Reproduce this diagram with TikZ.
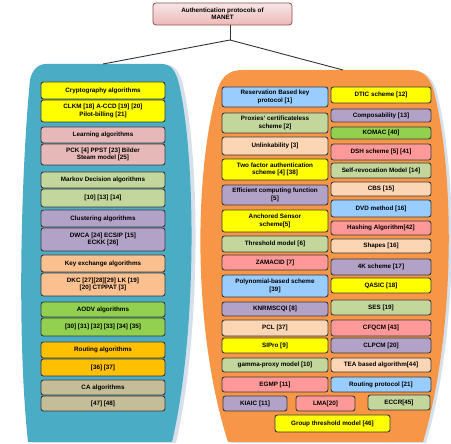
\documentclass[tikz,border=0pt]{standalone}
\usepackage{fontspec}
\setmainfont{Liberation Sans}
\definecolor{teal1}{HTML}{4BACC6}
\definecolor{orng}{HTML}{F79646}
\definecolor{yel}{HTML}{FFFF00}
\definecolor{pnkL}{HTML}{E6B9B8}
\definecolor{grn}{HTML}{C3D69B}
\definecolor{prp}{HTML}{B3A2C7}
\definecolor{pch}{HTML}{FAC090}
\definecolor{pchR}{HTML}{FCD5B5}
\definecolor{bgrn}{HTML}{92D050}
\definecolor{amb}{HTML}{FFC000}
\definecolor{tan1}{HTML}{C4BD97}
\definecolor{pnkR}{HTML}{FF9999}
\definecolor{lblu}{HTML}{99CCFF}
\definecolor{edge}{HTML}{3A3A3A}
\definecolor{shd}{HTML}{D5E0EA}
\tikzset{
  bx/.style={draw=edge, line width=0.9pt, rounded corners=2.5pt, inner sep=0.5pt,
    align=center, font=\fontsize{6.3}{7.3}\selectfont\bfseries, text=black},
  link/.style={draw=black!80, line width=0.9pt}
}
\newcommand\bx[7]{\node[bx,fill=#6,minimum width={(#4)-(#2)},minimum height={(#5)-(#3)}] (#1) at ({((#2)+(#4))/2},{((#3)+(#5))/2}) {#7};}
\newcommand\leftpanel{(46,64) -- (162,64) .. controls (171,64) and (175,71) .. (178,80) .. controls (196,150) and (198,330) .. (172,442) -- (28,442) .. controls (16,330) and (22,160) .. (30,80) .. controls (32,70) and (38,64) .. (46,64) -- cycle}
\newcommand\rightpanel{(242,70) -- (410,70) .. controls (423,70) and (429,77) .. (433,88) .. controls (455,170) and (456,330) .. (423,442) -- (228,442) .. controls (192,330) and (194,170) .. (218,88) .. controls (222,77) and (229,70) .. (242,70) -- cycle}
\begin{document}
\begin{tikzpicture}[x=1pt,y=-1pt]
\useasboundingbox (0,0) rectangle (451,444);
% panels
\fill[shd, shift={(4,1)}] \leftpanel;
\fill[teal1] \leftpanel;
\fill[shd, shift={(3,1)}] \rightpanel;
\fill[orng] \rightpanel;
% top node
\node[draw=pnkL!70!red!60!black, line width=0.8pt, rounded corners=3pt, top color=pnkL!35, bottom color=pnkL!90!red!80,
  minimum width=139, minimum height=22, inner sep=0.5pt, align=center,
  font=\fontsize{6.3}{7.3}\selectfont\bfseries] (tb) at (222.5,14) {Authentication protocols of\\MANET};
\coordinate (j) at (230,40);
\coordinate (lp) at (103,64);
\coordinate (rp) at (343,70);
\draw[link] (tb.south -| j) -- (j);
\draw[link] (j) -- (lp);
\draw[link] (j) -- (rp);
% left panel
\bx{l1h}{41}{82}{165}{99}{yel}{Cryptography algorithms}
\bx{l1b}{41}{100}{165}{122}{yel}{CLKM [18] A-CCD [19] [20]\\Pilot-billing [21]}
\bx{l2h}{41}{127}{165}{143}{pnkL}{Learning algorithms}
\bx{l2b}{41}{144}{165}{165}{pnkL}{PCK [4] PPST [23] Bilder\\Steam model [25]}
\bx{l3h}{41}{172}{165}{188}{grn}{Markov Decision algorithms}
\bx{l3b}{41}{189}{165}{207}{grn}{[10] [13] [14]}
\bx{l4h}{41}{210}{165}{227}{prp}{Clustering algorithms}
\bx{l4b}{41}{228}{165}{251}{prp}{DWCA [24] ECSIP [15]\\ECKK [26]}
\bx{l5h}{41}{255}{165}{272}{pch}{Key exchange algorithms}
\bx{l5b}{41}{273}{165}{296}{pch}{DKC [27][28][29] LK [19]\\[0pt][20] CTPPAT [3]}
\bx{l6h}{41}{302}{165}{317}{bgrn}{AODV algorithms}
\bx{l6b}{41}{318}{165}{336}{bgrn}{[30] [31] [32] [33] [34] [35]}
\bx{l7h}{41}{342}{165}{358}{amb}{Routing algorithms}
\bx{l7b}{41}{359}{165}{376}{amb}{[36] [37]}
\bx{l8h}{41}{380}{165}{395}{tan1}{CA algorithms}
\bx{l8b}{41}{396}{165}{411}{tan1}{[47] [48]}
% right panel, left column
\bx{r1}{222}{87}{328}{107}{lblu}{Reservation Based key\\protocol [1]}
\bx{r2}{222}{113}{328}{133}{grn}{Proxies' certificateless\\scheme [2]}
\bx{r3}{222}{137}{328}{155}{pchR}{Unlinkability [3]}
\bx{r4}{222}{159}{328}{180}{yel}{Two factor authentication\\scheme [4] [38]}
\bx{r5}{222}{185}{328}{205}{prp}{Efficient computing function\\[0pt][5]}
\bx{r6}{222}{210}{328}{232}{yel}{Anchored Sensor\\scheme[5]}
\bx{r7}{222}{236}{328}{252}{grn}{Threshold model [6]}
\bx{r8}{222}{255}{328}{270}{pnkR}{ZAMACID [7]}
\bx{r9}{222}{275}{328}{297}{lblu}{Polynomial-based scheme\\[0pt][39]}
\bx{r10}{222}{302}{328}{316}{prp}{KNRMSCQI [8]}
\bx{r11}{222}{320}{328}{336}{pchR}{PCL [37]}
\bx{r12}{222}{338}{328}{353}{yel}{SIPro [9]}
\bx{r13}{222}{358}{328}{372}{grn}{gamma-proxy model [10]}
\bx{r14}{222}{377}{328}{392}{pnkR}{EGMP [11]}
% right panel, right column
\bx{c1}{331}{87}{431}{103}{yel}{DTIC scheme [12]}
\bx{c2}{331}{109}{431}{122}{prp}{Composability [13]}
\bx{c3}{331}{127}{431}{139}{bgrn}{KOMAC [40]}
\bx{c4}{331}{144}{431}{160}{pnkR}{DSH scheme [5] [41]}
\bx{c5}{331}{163}{431}{178}{grn}{Self-revocation Model [14]}
\bx{c6}{331}{182}{431}{196}{pchR}{CBS [15]}
\bx{c7}{331}{200}{431}{217}{lblu}{DVD method [16]}
\bx{c8}{331}{221}{431}{235}{pnkR}{Hashing Algorithm[42]}
\bx{c9}{331}{239}{431}{253}{pchR}{Shapes [16]}
\bx{c10}{331}{259}{431}{275}{prp}{4K scheme [17]}
\bx{c11}{331}{278}{431}{293}{yel}{QASIC [18]}
\bx{c12}{331}{300}{431}{315}{grn}{SES [19]}
\bx{c13}{331}{320}{431}{336}{pnkR}{CFQCM [43]}
\bx{c14}{331}{338}{431}{353}{prp}{CLPCM [20]}
\bx{c15}{331}{358}{431}{372}{pchR}{TEA based algorithm[44]}
\bx{c16}{331}{377}{431}{392}{lblu}{Routing protocol [21]}
% bottom row
\bx{b1}{223}{396}{287}{411}{prp}{KIAIC [11]}
\bx{b2}{296}{396}{355}{411}{pnkR}{LMA[20]}
\bx{b3}{368}{395}{430}{410}{grn}{ECCR[45]}
\bx{b4}{275}{415}{390}{432}{yel}{Group threshold model [46]}
\end{tikzpicture}
\end{document}
